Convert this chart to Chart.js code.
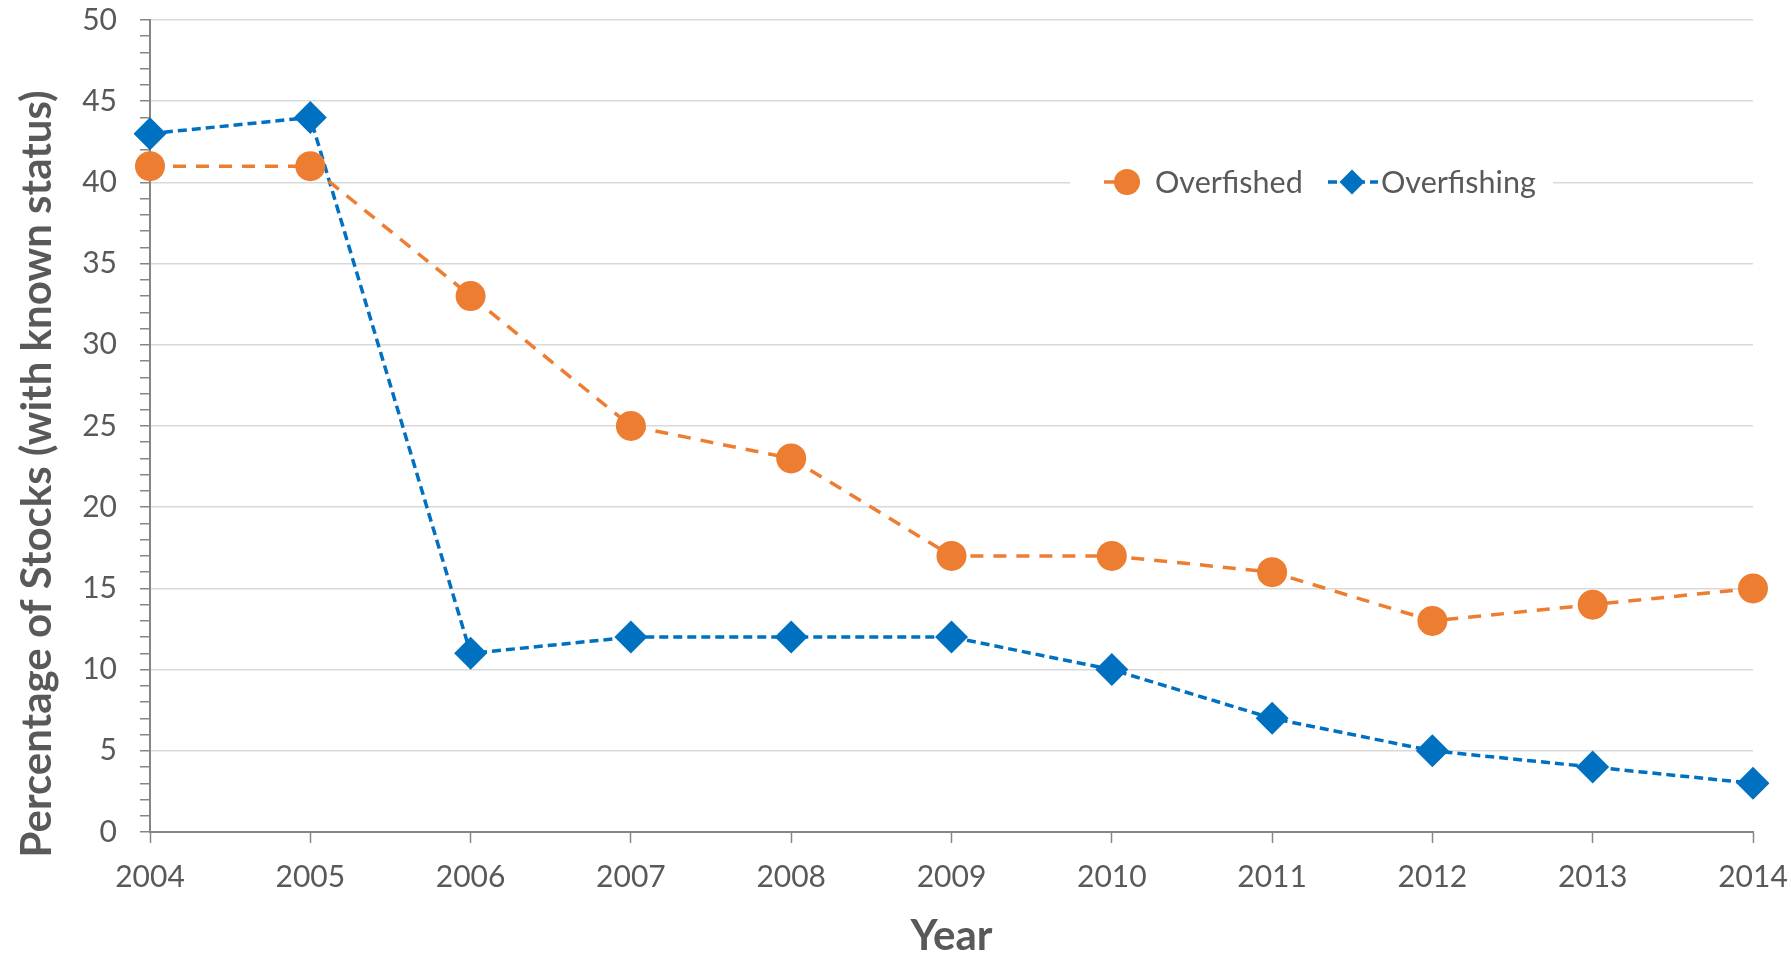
<!DOCTYPE html>
<html>
<head>
<meta charset="utf-8">
<title>Overfished and Overfishing Stocks</title>
<script src="https://cdn.jsdelivr.net/npm/chart.js@4/dist/chart.umd.min.js"></script>
<style>
  html, body { margin: 0; padding: 0; background: #ffffff; }
  #wrap { width: 1791px; height: 957px; position: relative; }
</style>
</head>
<body>
<div id="wrap"><canvas id="chart" width="1791" height="957"></canvas></div>
<script>
// Stock status by year
const years = ['2004', '2005', '2006', '2007', '2008', '2009', '2010', '2011', '2012', '2013', '2014'];
const overfished = [41, 41, 33, 25, 23, 17, 17, 16, 13, 14, 15];
const overfishing = [43, 44, 11, 12, 12, 12, 10, 7, 5, 4, 3];
const seriesNames = ['Overfished', 'Overfishing'];
const yTitle = 'Percentage of Stocks (with known status)';
const xTitle = 'Year';

const TEXT = '#595959';
const AXIS = '#868686';
const GRID = '#d9d9d9';
const ORANGE = '#ED7D31';
const BLUE = '#0070C0';
const FONT = 'Lato, "Open Sans", sans-serif';

// Rotated y-axis title, placed a little below the plot's vertical centre
const sideTitle = {
  id: 'sideTitle',
  afterDraw(chart) {
    const ctx = chart.ctx;
    ctx.save();
    ctx.translate(37, 474);
    ctx.rotate(-Math.PI / 2);
    ctx.fillStyle = TEXT;
    ctx.font = 'bold 42px ' + FONT;
    ctx.textAlign = 'center';
    ctx.textBaseline = 'middle';
    ctx.fillText(yTitle, 0, 0);
    ctx.restore();
  }
};

// Legend drawn inside the plot, on a white box over the gridline
const insideLegend = {
  id: 'insideLegend',
  afterDraw(chart) {
    const ctx = chart.ctx;
    const cy = 182;
    ctx.save();
    ctx.fillStyle = '#ffffff';
    ctx.fillRect(1070, cy - 20, 483, 40);
    const items = [
      { ds: chart.data.datasets[0], x0: 1104, x1: 1148, mx: 1127, tx: 1155, r: 13 },
      { ds: chart.data.datasets[1], x0: 1328, x1: 1378, mx: 1352, tx: 1381, r: 12.5 }
    ];
    items.forEach(it => {
      const ds = it.ds;
      ctx.strokeStyle = ds.borderColor;
      ctx.lineWidth = ds.borderWidth;
      ctx.setLineDash(ds.borderDash);
      ctx.beginPath();
      ctx.moveTo(it.x0, cy);
      ctx.lineTo(it.x1, cy);
      ctx.stroke();
      ctx.setLineDash([]);
      ctx.fillStyle = ds.pointBackgroundColor;
      ctx.beginPath();
      if (ds.pointStyle === 'circle') {
        ctx.arc(it.mx, cy, it.r, 0, Math.PI * 2);
      } else {
        ctx.moveTo(it.mx - it.r, cy);
        ctx.lineTo(it.mx, cy - it.r);
        ctx.lineTo(it.mx + it.r, cy);
        ctx.lineTo(it.mx, cy + it.r);
        ctx.closePath();
      }
      ctx.fill();
      ctx.fillStyle = TEXT;
      ctx.font = '30.5px ' + FONT;
      ctx.textBaseline = 'middle';
      ctx.textAlign = 'left';
      ctx.fillText(ds.label, it.tx, cy + 1);
    });
    ctx.restore();
  }
};

new Chart(document.getElementById('chart'), {
  type: 'line',
  data: {
    labels: years,
    datasets: [
      {
        label: seriesNames[0],
        data: overfished,
        borderColor: ORANGE,
        backgroundColor: ORANGE,
        borderWidth: 3.5,
        borderDash: [13, 10],
        pointStyle: 'circle',
        pointRadius: 15,
        pointHoverRadius: 15,
        pointBackgroundColor: ORANGE,
        pointBorderColor: ORANGE,
        pointBorderWidth: 0,
        tension: 0,
        fill: false
      },
      {
        label: seriesNames[1],
        data: overfishing,
        borderColor: BLUE,
        backgroundColor: BLUE,
        borderWidth: 3.5,
        borderDash: [9, 5],
        pointStyle: 'rectRot',
        pointRadius: 16.5,
        pointHoverRadius: 16.5,
        pointBackgroundColor: BLUE,
        pointBorderColor: BLUE,
        pointBorderWidth: 0,
        tension: 0,
        fill: false
      }
    ]
  },
  options: {
    responsive: false,
    animation: false,
    devicePixelRatio: 1,
    layout: { padding: { top: 20, right: 38, left: 0, bottom: 0 } },
    plugins: {
      legend: { display: false },
      tooltip: { enabled: false }
    },
    scales: {
      x: {
        type: 'category',
        offset: false,
        afterFit(scale) {
          scale.height = 125;
          scale.paddingLeft = 0;
          scale.paddingRight = 0;
        },
        border: { display: true, color: AXIS, width: 2 },
        grid: {
          drawOnChartArea: false,
          drawTicks: true,
          tickLength: 11,
          tickColor: AXIS,
          tickWidth: 1.5
        },
        ticks: {
          color: TEXT,
          font: { family: FONT, size: 30 },
          padding: 16,
          maxRotation: 0,
          autoSkip: false
        },
        title: {
          display: true,
          text: xTitle,
          color: TEXT,
          font: { family: FONT, size: 42, weight: 'bold', lineHeight: 1.0 },
          padding: { top: 0, bottom: 0 }
        }
      },
      y: {
        min: 0,
        max: 50,
        afterFit(scale) {
          scale.width = 150;
          scale.paddingTop = 0;
          scale.paddingBottom = 0;
        },
        border: { display: true, color: AXIS, width: 2 },
        grid: {
          drawTicks: true,
          tickLength: 10,
          tickWidth: 1.5,
          tickColor: AXIS,
          color: ctx => (ctx.tick && ctx.tick.value % 5 === 0 && ctx.tick.value !== 0) ? GRID : 'rgba(0,0,0,0)',
          lineWidth: 1.5
        },
        ticks: {
          stepSize: 1,
          maxTicksLimit: 100,
          autoSkip: false,
          color: TEXT,
          font: { family: FONT, size: 30 },
          padding: 23,
          callback: v => (v % 5 === 0 ? String(v) : '')
        },
        title: { display: false }
      }
    }
  },
  plugins: [sideTitle, insideLegend]
});
</script>
</body>
</html>
